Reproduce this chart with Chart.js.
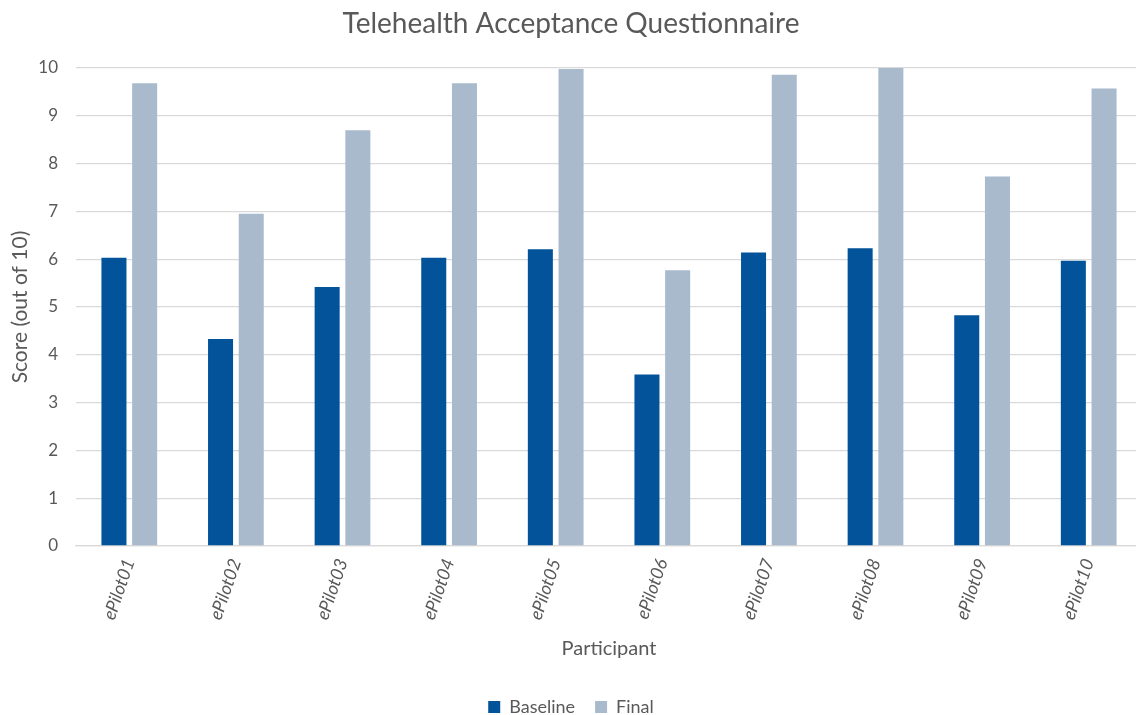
<!DOCTYPE html>
<html>
<head>
<meta charset="utf-8">
<script src="https://cdn.jsdelivr.net/npm/chart.js@4/dist/chart.umd.min.js"></script>
<style>
  html, body { margin: 0; padding: 0; background: #fff; overflow: hidden; }
  #wrap { width: 1142px; height: 726px; position: relative; }
</style>
</head>
<body>
<div id="wrap"><canvas id="chart"></canvas></div>
<script>
  // participants and scores (out of 10)
  const participants = ["ePilot01", "ePilot02", "ePilot03", "ePilot04", "ePilot05",
                        "ePilot06", "ePilot07", "ePilot08", "ePilot09", "ePilot10"];
  const baseline = [6.03, 4.33, 5.42, 6.03, 6.21, 3.59, 6.14, 6.23, 4.83, 5.97];
  const finalScore = [9.68, 6.95, 8.70, 9.68, 9.98, 5.77, 9.86, 10.0, 7.73, 9.57];

  const FONT = "Lato, 'Open Sans', sans-serif";
  const GREY = "#595959";

  new Chart(document.getElementById("chart"), {
    type: "bar",
    data: {
      labels: participants,
      datasets: [
        { label: "Baseline", data: baseline, backgroundColor: "#02539a" },
        { label: "Final", data: finalScore, backgroundColor: "#a9bacc" }
      ]
    },
    options: {
      responsive: true,
      maintainAspectRatio: false,
      animation: false,
      layout: { padding: 0 },
      datasets: {
        bar: { categoryPercentage: 0.576, barPercentage: 0.815 }
      },
      plugins: {
        title: {
          display: true,
          text: "Telehealth Acceptance Questionnaire",
          color: GREY,
          font: { family: FONT, size: 28, weight: "normal" },
          padding: { top: 7, bottom: 27.4 }
        },
        legend: {
          position: "bottom",
          labels: {
            color: GREY,
            font: { family: FONT, size: 18 },
            boxWidth: 12,
            boxHeight: 12,
            padding: 20
          }
        },
        tooltip: { enabled: false }
      },
      scales: {
        x: {
          grid: { display: false, drawTicks: false },
          border: { display: true, color: "#d9d9d9", width: 1.3 },
          ticks: {
            color: GREY,
            font: { family: FONT, size: 18, style: "italic" },
            minRotation: 71,
            maxRotation: 71,
            padding: 10
          },
          title: {
            display: true,
            text: "Participant",
            color: GREY,
            font: { family: FONT, size: 20 },
            padding: { top: 0, bottom: 17 }
          },
          afterFit: (s) => { s.height = 132; }
        },
        y: {
          min: 0,
          max: 10,
          grid: { color: "#d9d9d9", lineWidth: 1.3, drawTicks: false },
          border: { display: false },
          ticks: {
            stepSize: 1,
            color: GREY,
            font: { family: FONT, size: 17 },
            padding: 18
          },
          title: {
            display: true,
            text: "Score (out of 10)",
            color: GREY,
            font: { family: FONT, size: 21 },
            padding: { top: 7.4, bottom: 0 }
          },
          afterFit: (s) => { s.width = 76; }
        }
      }
    }
  });
</script>
</body>
</html>
